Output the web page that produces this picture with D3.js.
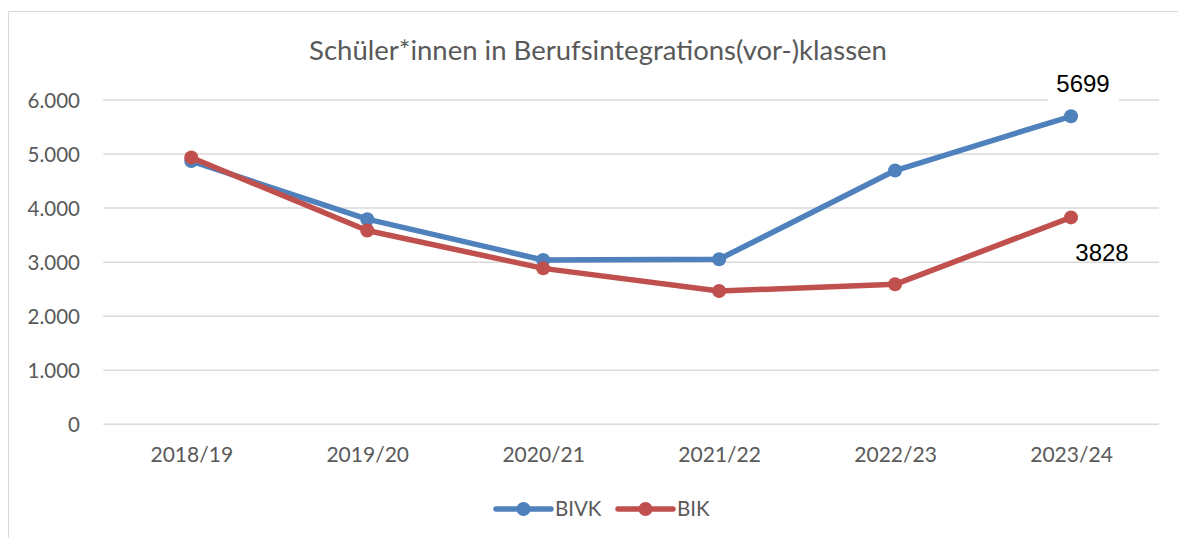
<!DOCTYPE html>
<html><head><meta charset="utf-8">
<script src="https://cdn.jsdelivr.net/npm/d3@7"></script>
<style>body{margin:0;background:#fff}svg{display:block}</style>
</head><body>
<svg id="chart" width="1178" height="538"></svg>
<script>
const title = "Schüler*innen in Berufsintegrations(vor-)klassen";
const categories = ["2018/19","2019/20","2020/21","2021/22","2022/23","2023/24"];
const bivk = [4870, 3795, 3040, 3055, 4695, 5699];
const bik  = [4935, 3585, 2885, 2465, 2590, 3828];
const seriesNames = ["BIVK","BIK"];
const seriesColors = ["#4F81BD","#C0504D"];
const yTicks = [0,1000,2000,3000,4000,5000,6000];
const labelTexts = ["5699","3828"];

const svg = d3.select("#chart");
const fontMain = "Lato, 'Open Sans', sans-serif";
const grey = "#595959";

// outer border
svg.append("rect").attr("x",8.5).attr("y",11.5).attr("width",1300).attr("height",600)
  .attr("fill","none").attr("stroke","#d9d9d9").attr("stroke-width",1);

const x = d3.scalePoint().domain(categories).range([103.3,1159]).padding(0.5);
const y = d3.scaleLinear().domain([0,6000]).range([424.3,100]);

// gridlines
svg.append("g").selectAll("line").data(yTicks).join("line")
  .attr("x1",103.3).attr("x2",1159)
  .attr("y1",d=>y(d)).attr("y2",d=>y(d))
  .attr("stroke","#d9d9d9").attr("stroke-width",1.5);

// y axis labels
const yAxis = d3.axisLeft(y).tickValues(yTicks).tickSize(0).tickPadding(0)
  .tickFormat(d => d3.format(",")(d).replace(/,/g,"."));
const gy = svg.append("g").attr("transform","translate(80,0)").call(yAxis);
gy.select(".domain").remove();
gy.selectAll("text").attr("font-family",fontMain).attr("font-size",20.5).attr("fill",grey).attr("dy","0.36em");

// x axis labels
const xAxis = d3.axisBottom(x).tickSize(0).tickPadding(0);
const gx = svg.append("g").attr("transform","translate(0,462)").call(xAxis);
gx.select(".domain").remove();
gx.selectAll("text").attr("font-family",fontMain).attr("font-size",21).attr("fill",grey).attr("dy",0);

// title
svg.append("text").attr("x",598).attr("y",60).attr("text-anchor","middle")
  .attr("font-family",fontMain).attr("font-size",27.5).attr("fill",grey).text(title);

// lines
const line = d3.line().x((d,i)=>x(categories[i])).y(d=>y(d));
const allSeries = [bivk, bik];
allSeries.forEach((vals,si)=>{
  svg.append("path").datum(vals).attr("d",line).attr("fill","none")
    .attr("stroke",seriesColors[si]).attr("stroke-width",5.5).attr("stroke-linejoin","round");
  svg.append("g").selectAll("circle").data(vals).join("circle")
    .attr("cx",(d,i)=>x(categories[i])).attr("cy",d=>y(d)).attr("r",7)
    .attr("fill",seriesColors[si]);
});

// data labels
const last = categories.length-1;
const lx1 = x(categories[last]);
svg.append("rect").attr("x",lx1-23).attr("y",y(bivk[last])-46).attr("width",71).attr("height",32).attr("fill","#fff");
svg.append("text").attr("x",lx1+12).attr("y",y(bivk[last])-24).attr("text-anchor","middle")
  .attr("font-family","'Liberation Sans', Arial, sans-serif").attr("font-size",24).attr("fill","#000").text(labelTexts[0]);
svg.append("text").attr("x",lx1+31).attr("y",y(bik[last])+44).attr("text-anchor","middle")
  .attr("font-family","'Liberation Sans', Arial, sans-serif").attr("font-size",24).attr("fill","#000").text(labelTexts[1]);

// legend
const legendX = [496, 618];
seriesNames.forEach((n,i)=>{
  const g = svg.append("g").attr("transform",`translate(${legendX[i]},509)`);
  g.append("line").attr("x1",0).attr("x2",55).attr("y1",0).attr("y2",0)
    .attr("stroke",seriesColors[i]).attr("stroke-width",5.5).attr("stroke-linecap","round");
  g.append("circle").attr("cx",27.5).attr("cy",0).attr("r",7).attr("fill",seriesColors[i]);
  g.append("text").attr("x",59).attr("y",7).attr("font-family",fontMain).attr("font-size",20.5)
    .attr("fill",grey).text(n);
});
</script>
</body></html>
